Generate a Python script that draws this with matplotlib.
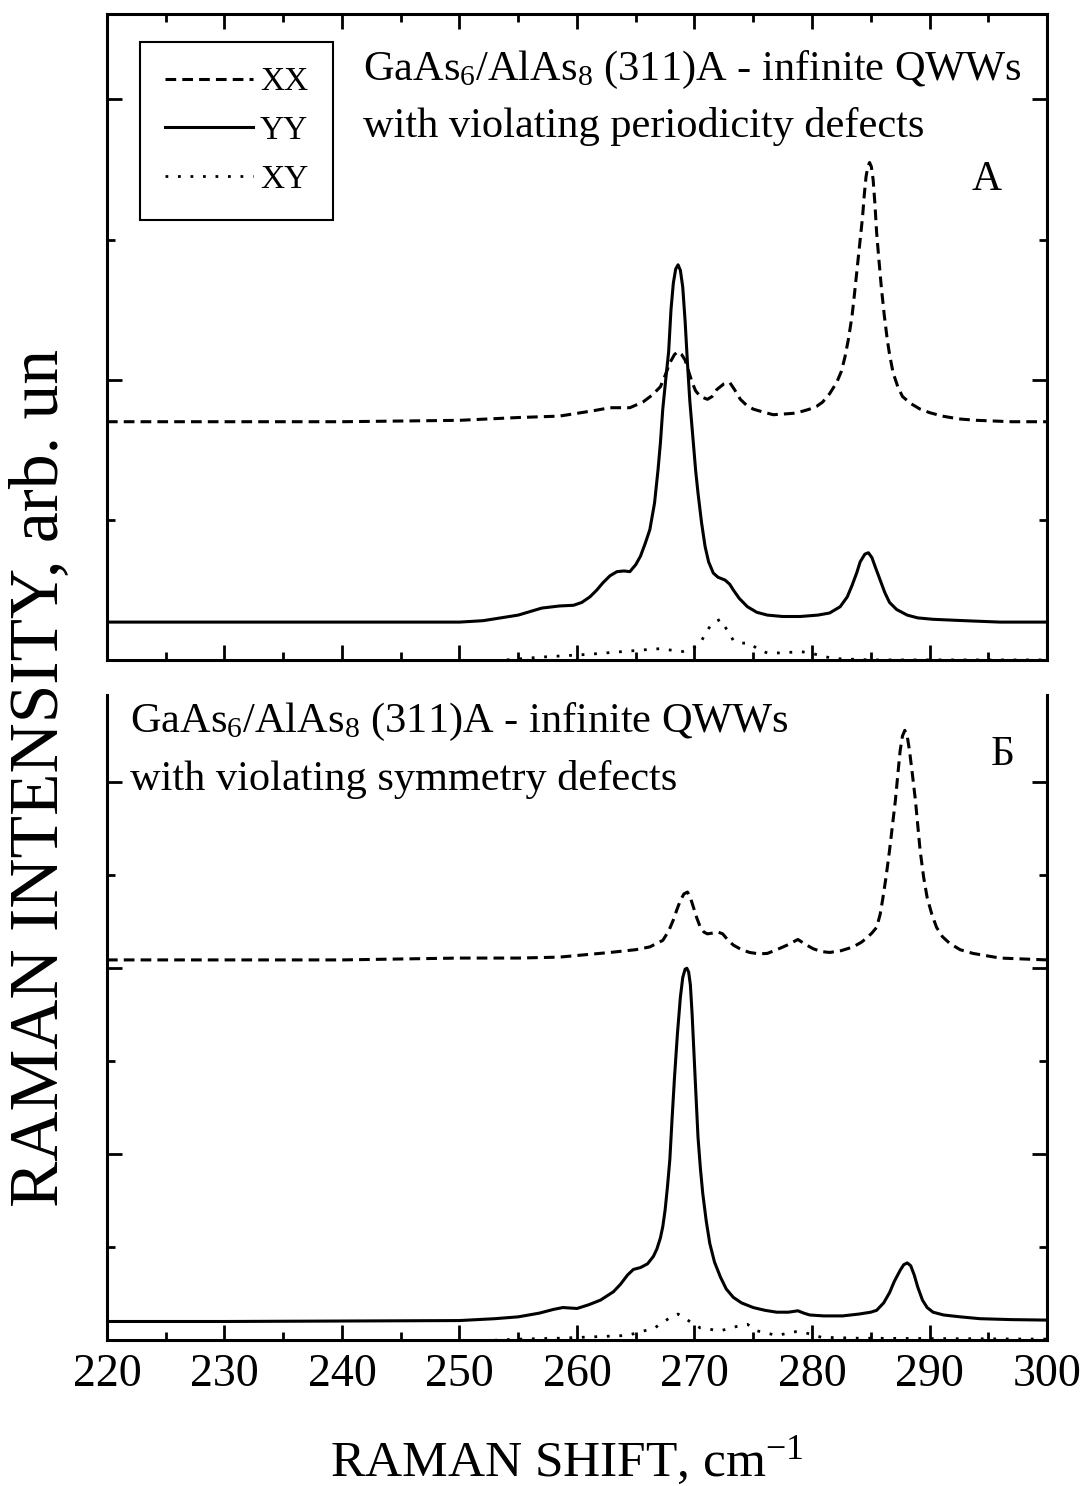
import numpy as np
import matplotlib
matplotlib.use("Agg")
import matplotlib.pyplot as plt
from matplotlib.ticker import MultipleLocator

plt.rcParams['font.family'] = ['Liberation Serif', 'DejaVu Serif']
plt.rcParams['mathtext.fontset'] = 'custom'
plt.rcParams['mathtext.rm'] = 'Liberation Serif'
plt.rcParams['mathtext.default'] = 'regular'

# ---- панель А: дефекти, що порушують періодичність (x, y) ----
a_xx = [(220, 1.70), (230, 1.70), (240, 1.70), (250, 1.71), (255, 1.73), (258.5, 1.74), (260, 1.76),
        (261.5, 1.78), (262.8, 1.80), (264.5, 1.80), (265.6, 1.84), (266.4, 1.89), (267.1, 1.95),
        (267.5, 2.03), (267.9, 2.12), (268.3, 2.18), (268.6, 2.20), (268.9, 2.18), (269.2, 2.14),
        (269.5, 2.06), (269.8, 1.98), (270.1, 1.92), (270.5, 1.88), (271.1, 1.86), (271.5, 1.88),
        (271.9, 1.93), (272.5, 1.97), (273.0, 1.98), (273.4, 1.93), (273.9, 1.86), (274.4, 1.82),
        (275.0, 1.79), (275.8, 1.77), (276.7, 1.75), (277.6, 1.755), (278.4, 1.76), (279.2, 1.775),
        (279.8, 1.79), (280.4, 1.81), (280.9, 1.84), (281.5, 1.90), (282.1, 1.98), (282.5, 2.06),
        (282.8, 2.16), (283.1, 2.29), (283.4, 2.45), (283.6, 2.60), (283.8, 2.76), (284.05, 2.96),
        (284.3, 3.16), (284.45, 3.32), (284.6, 3.45), (284.75, 3.52), (284.9, 3.55), (285.05, 3.52),
        (285.2, 3.43), (285.35, 3.26), (285.5, 3.05), (285.7, 2.85), (285.9, 2.66), (286.15, 2.46),
        (286.4, 2.29), (286.6, 2.18), (286.9, 2.05), (287.3, 1.95), (287.7, 1.88), (288.4, 1.83),
        (289.2, 1.79), (290.0, 1.765), (291.1, 1.74), (292.5, 1.72), (294.0, 1.71), (297, 1.70),
        (300, 1.70)]

a_yy = [(220, 0.27), (230, 0.27), (240, 0.27), (250, 0.27), (252, 0.28), (253.5, 0.30), (255, 0.32),
        (256.2, 0.35), (257, 0.37), (258.5, 0.385), (259.7, 0.39), (260.4, 0.41), (261.1, 0.45),
        (261.7, 0.50), (262.2, 0.55), (262.8, 0.60), (263.4, 0.63), (264.0, 0.635), (264.5, 0.63),
        (265.0, 0.68), (265.4, 0.74), (265.8, 0.83), (266.2, 0.93), (266.6, 1.12), (266.9, 1.36),
        (267.1, 1.55), (267.3, 1.79), (267.55, 2.00), (267.8, 2.20), (268.0, 2.50), (268.2, 2.69),
        (268.4, 2.79), (268.6, 2.82), (268.8, 2.78), (269.0, 2.66), (269.2, 2.42), (269.4, 2.12),
        (269.6, 1.85), (269.9, 1.55), (270.1, 1.35), (270.3, 1.19), (270.6, 0.98), (270.9, 0.81),
        (271.2, 0.70), (271.6, 0.62), (272.0, 0.59), (272.6, 0.57), (273.0, 0.54), (273.3, 0.50),
        (273.8, 0.44), (274.5, 0.38), (275.3, 0.34), (276.2, 0.32), (277.5, 0.31), (279.0, 0.31),
        (280.5, 0.32), (281.5, 0.335), (282.0, 0.36), (282.4, 0.38), (283.0, 0.45), (283.4, 0.53),
        (283.8, 0.62), (284.1, 0.70), (284.5, 0.755), (284.8, 0.765), (285.1, 0.73), (285.4, 0.66),
        (285.8, 0.57), (286.2, 0.48), (286.6, 0.41), (287.2, 0.36), (288.1, 0.32), (289.0, 0.30),
        (290.3, 0.29), (293, 0.28), (296, 0.27), (300, 0.27)]

a_xy = [(220, -0.02), (252, -0.02), (254, 0.0), (256.9, 0.02), (261, 0.04), (265.4, 0.07),
        (267, 0.08), (269.0, 0.06), (270.0, 0.09), (270.5, 0.12), (271.0, 0.20), (271.5, 0.26),
        (272.2, 0.29), (272.8, 0.21), (273.3, 0.14), (274.0, 0.12), (274.7, 0.12), (275.5, 0.07),
        (276.2, 0.05), (277.5, 0.05), (279.0, 0.06), (279.8, 0.05), (280.8, 0.03), (281.8, 0.01),
        (285, 0.0), (300, 0.0)]

# ---- панель Б: дефекти, що порушують симетрію (x, y) ----
b_xx = [(220, 4.09), (230, 4.09), (240, 4.09), (250, 4.11), (255, 4.11), (258.5, 4.12), (262.8, 4.17),
        (265, 4.20), (266.2, 4.23), (267.3, 4.30), (267.8, 4.40), (268.2, 4.52), (268.5, 4.63),
        (268.8, 4.73), (269.1, 4.80), (269.4, 4.82), (269.65, 4.76), (269.9, 4.66), (270.2, 4.54),
        (270.5, 4.44), (270.8, 4.39), (271.1, 4.37), (271.6, 4.38), (272.0, 4.39), (272.4, 4.37),
        (272.8, 4.31), (273.3, 4.25), (274.0, 4.20), (274.7, 4.17), (275.5, 4.155), (276.2, 4.16),
        (277.0, 4.20), (277.9, 4.25), (278.5, 4.29), (278.8, 4.31), (279.4, 4.26), (280.1, 4.21),
        (280.8, 4.18), (281.5, 4.17), (282.5, 4.19), (283.5, 4.23), (284.2, 4.28), (284.7, 4.33),
        (285.1, 4.38), (285.5, 4.44), (285.8, 4.58), (286.0, 4.73), (286.3, 4.98), (286.6, 5.27),
        (286.85, 5.54), (287.1, 5.81), (287.3, 6.08), (287.5, 6.34), (287.7, 6.50), (287.9, 6.56),
        (288.1, 6.50), (288.3, 6.34), (288.55, 6.08), (288.8, 5.81), (289.0, 5.54), (289.2, 5.27),
        (289.5, 4.98), (289.8, 4.76), (290.2, 4.58), (290.6, 4.44), (291.1, 4.34), (291.7, 4.27),
        (292.6, 4.20), (293.7, 4.16), (296, 4.11), (300, 4.09)]

b_yy = [(220, 0.20), (230, 0.20), (240, 0.205), (250, 0.21), (253, 0.23), (255, 0.25), (256.8, 0.29),
        (258, 0.33), (258.8, 0.35), (260.0, 0.34), (261, 0.38), (262.0, 0.43), (263.1, 0.52),
        (263.7, 0.60), (264.3, 0.70), (264.8, 0.76), (265.4, 0.78), (266.0, 0.82), (266.5, 0.90),
        (266.8, 0.98), (267.1, 1.10), (267.3, 1.22), (267.5, 1.40), (267.7, 1.65), (267.9, 1.94),
        (268.1, 2.40), (268.3, 2.83), (268.55, 3.30), (268.8, 3.69), (269.0, 3.90), (269.2, 3.99),
        (269.35, 4.00), (269.5, 3.96), (269.65, 3.82), (269.8, 3.50), (269.95, 3.10), (270.1, 2.70),
        (270.3, 2.18), (270.5, 1.85), (270.7, 1.58), (271.0, 1.28), (271.3, 1.04), (271.7, 0.84),
        (272.2, 0.68), (272.7, 0.55), (273.3, 0.46), (274.0, 0.40), (275.0, 0.35), (276.0, 0.32),
        (277.0, 0.30), (278.0, 0.30), (278.8, 0.315), (279.3, 0.29), (279.8, 0.27), (281, 0.26),
        (282.6, 0.26), (284, 0.28), (285, 0.30), (285.5, 0.32), (286.1, 0.40), (286.6, 0.51),
        (287.0, 0.63), (287.5, 0.75), (287.8, 0.81), (288.1, 0.83), (288.4, 0.80), (288.7, 0.70),
        (289.0, 0.57), (289.4, 0.43), (289.8, 0.35), (290.3, 0.30), (291.2, 0.27), (292.6, 0.25),
        (294.3, 0.23), (297, 0.22), (300, 0.215)]

b_xy = [(220, -0.02), (250, -0.02), (255, 0.01), (258.5, 0.02), (264.3, 0.05), (266.6, 0.13),
        (267.9, 0.24), (268.6, 0.28), (269.6, 0.20), (270.5, 0.13), (272.2, 0.10), (273.7, 0.15),
        (274.5, 0.17), (275.3, 0.10), (277.0, 0.05), (278.6, 0.09), (279.4, 0.08), (280.8, 0.03),
        (283.9, 0.02), (300, 0.01)]

x_ticks = [220, 230, 240, 250, 260, 270, 280, 290, 300]
legend_labels = ['XX', 'YY', 'XY']

dash = (0, (3.5, 2))
dots = (0, (1, 3.5))
lw = 2.2

fig = plt.figure(figsize=(10.86, 14.86), dpi=100)
ax1 = fig.add_axes([0.0985, 0.5559, 0.8656, 0.4347])
ax2 = fig.add_axes([0.0985, 0.0982, 0.8656, 0.4341])

for ax, series in ((ax1, (a_xx, a_yy, a_xy)), (ax2, (b_xx, b_yy, b_xy))):
    styles = [dict(ls=dash, lw=lw), dict(ls='-', lw=lw), dict(ls=dots, lw=2.0)]
    for pts, st, lab in zip(series, styles, legend_labels):
        x, y = np.array(pts).T
        ax.plot(x, y, color='black', label=lab, **st)

ax1.set_ylim(0, 4.61)
ax2.set_ylim(0, 6.94)

for ax in (ax1, ax2):
    ax.set_xlim(220, 300)
    ax.set_xticks(x_ticks)
    ax.xaxis.set_minor_locator(MultipleLocator(5))
    ax.yaxis.set_major_locator(MultipleLocator(2))
    ax.yaxis.set_minor_locator(MultipleLocator(1))
    for s in ax.spines.values():
        s.set_linewidth(2.2)
    ax.tick_params(which='major', direction='in', length=11, width=2)
    ax.tick_params(which='minor', direction='in', length=6, width=2)
    ax.set_yticklabels([])

ax1.tick_params(which='both', top=True, right=True, labelbottom=False)
ax2.spines['top'].set_visible(False)
ax2.tick_params(which='both', top=False, right=True, labelsize=33, pad=10)
ax2.set_xticklabels([str(t) for t in x_ticks])

leg = ax1.legend(loc='upper left', bbox_to_anchor=(0.035, 0.957), fontsize=24,
                 frameon=True, fancybox=False, edgecolor='black', framealpha=1,
                 handlelength=2.65, handletextpad=0.2, labelspacing=0.55, borderpad=0.75,
                 borderaxespad=0)
leg.get_frame().set_linewidth(1.5)

title = r'GaAs$_6$/AlAs$_8$ (311)A - infinite QWWs'
ax1.text(0.272, 0.898, title, transform=ax1.transAxes, fontsize=30.5, va='baseline', ha='left')
ax1.text(0.272, 0.81, 'with violating periodicity defects', transform=ax1.transAxes,
         fontsize=30.5, va='baseline', ha='left')
ax1.text(0.936, 0.743, 'А', transform=ax1.transAxes, fontsize=30, va='center', ha='center')

ax2.text(0.0245, 0.943, title, transform=ax2.transAxes, fontsize=30.5, va='baseline', ha='left')
ax2.text(0.0245, 0.853, 'with violating symmetry defects', transform=ax2.transAxes,
         fontsize=30.5, va='baseline', ha='left')
ax2.text(0.953, 0.907, 'Б', transform=ax2.transAxes, fontsize=30, va='center', ha='center')

fig.text(0.522, 0.007, r'RAMAN SHIFT, cm$^{-1}$', fontsize=37, ha='center', va='baseline')
fig.text(0.037, 0.4764, 'RAMAN INTENSITY, arb. un', fontsize=50, rotation=90,
         ha='center', va='center')

fig.savefig('out.png', dpi=100)
